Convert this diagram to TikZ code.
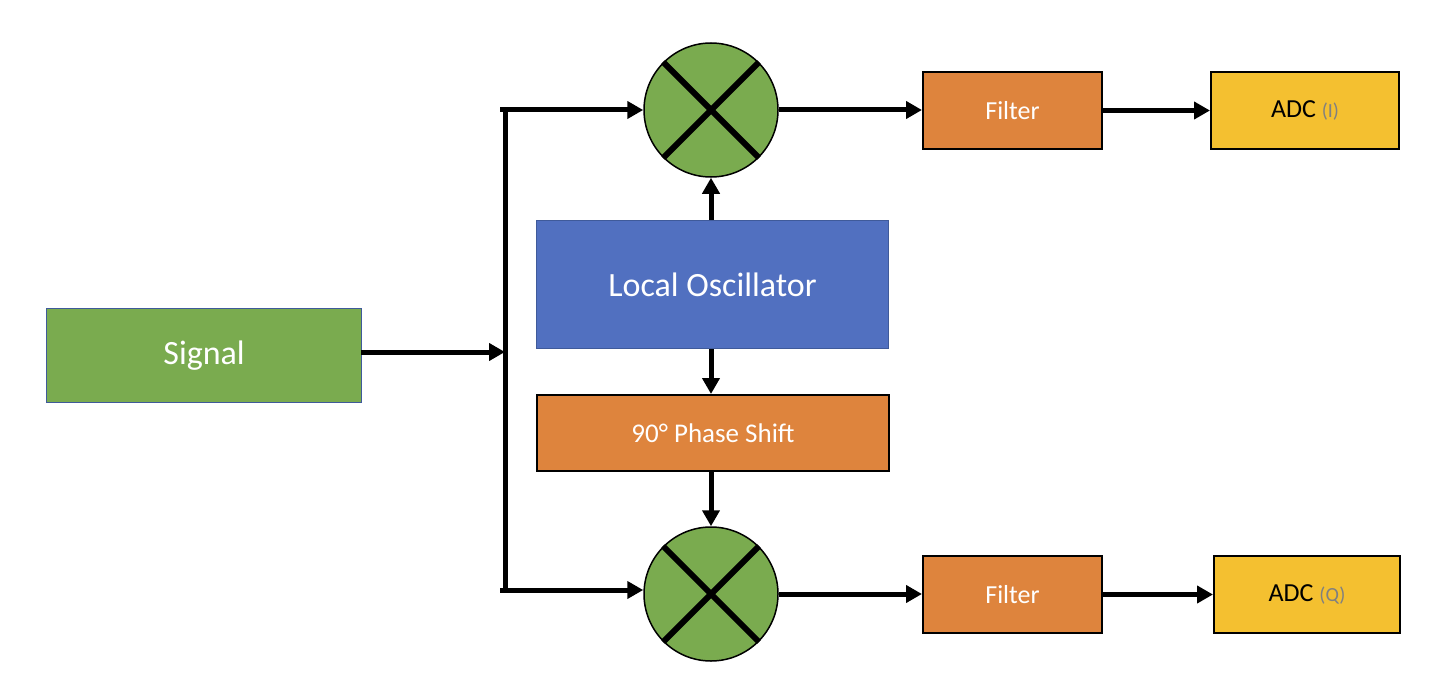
\documentclass[tikz,border=0pt]{standalone}
\usepackage{fontspec}
\setmainfont{Carlito}
\usetikzlibrary{arrows.meta}
\definecolor{grn}{HTML}{7AAB4F}
\definecolor{blu}{HTML}{5170C0}
\definecolor{bluedge}{HTML}{3F5A9A}
\definecolor{org}{HTML}{DE843D}
\definecolor{ylw}{HTML}{F4C030}
\definecolor{gry}{HTML}{808080}
\tikzset{
  box/.style={rectangle, inner sep=0pt, anchor=north west},
  wire/.style={line width=5pt, -{Triangle[length=16pt,width=17pt]}},
  plain/.style={line width=5pt},
  mixer/.style={circle, draw=black, line width=1.5pt, fill=grn, minimum size=134pt, inner sep=0pt},
  crossline/.style={line width=6pt}
}
\begin{document}
\begin{tikzpicture}[x=1pt,y=-1pt]
\useasboundingbox (0,0) rectangle (1445,698);
% boxes
\node[box, fill=grn, draw=bluedge, line width=1.2pt, minimum width=315pt, minimum height=94pt, text=white, font=\fontsize{34}{38}\selectfont] (sig) at (46,308) {Signal};
\node[box, fill=blu, draw=bluedge, line width=1.2pt, minimum width=352pt, minimum height=128pt, text=white, font=\fontsize{34}{38}\selectfont] (lo) at (536,220) {Local Oscillator};
\node[box, fill=org, draw=black, line width=2pt, minimum width=352pt, minimum height=76pt, text=white, font=\fontsize{27}{30}\selectfont] (ps) at (536,394) {90° Phase Shift};
\node[box, fill=org, draw=black, line width=2pt, minimum width=179pt, minimum height=77pt, text=white, font=\fontsize{26}{30}\selectfont] (f1) at (922,71) {Filter};
\node[box, fill=org, draw=black, line width=2pt, minimum width=179pt, minimum height=77pt, text=white, font=\fontsize{26}{30}\selectfont] (f2) at (922,555) {Filter};
\node[box, fill=ylw, draw=black, line width=2pt, minimum width=188pt, minimum height=77pt, font=\fontsize{26}{30}\selectfont] (a1) at (1210,71) {ADC {\color{gry}\fontsize{20}{24}\selectfont(I)}};
\node[box, fill=ylw, draw=black, line width=2pt, minimum width=186pt, minimum height=77pt, font=\fontsize{26}{30}\selectfont] (a2) at (1213,555) {ADC {\color{gry}\fontsize{20}{24}\selectfont(Q)}};
% mixers
\node[mixer] (m1) at (711,110) {};
\node[mixer] (m2) at (711,594) {};
\foreach \m in {m1,m2}{
  \draw[crossline] (\m.45) -- (\m.225);
  \draw[crossline] (\m.135) -- (\m.315);
}
% splitter
\coordinate (jt) at (500,110);
\coordinate (jb) at (500,590);
\coordinate (vt) at (505,107.5);
\coordinate (vb) at (505,592.5);
\coordinate (sx) at (361,352);
\draw[plain] (vt) -- (vb);
\draw[wire] (sx) -- (sx -| vt);
\draw[wire] (jt) -- (m1.west |- jt);
\draw[wire] (jb) -- (m2.west |- jb);
% LO paths
\draw[wire] (lo.north -| m1) -- (m1.south);
\draw[wire] (lo.south -| m1) -- (ps.north -| m1);
\draw[wire] (ps.south -| m2) -- (m2.north);
% outputs
\draw[wire] (m1.east) -- (f1.west |- m1.east);
\draw[wire] (f1.east) -- (a1.west |- f1.east);
\draw[wire] (m2.east) -- (f2.west |- m2.east);
\draw[wire] (f2.east) -- (a2.west |- f2.east);
\end{tikzpicture}
\end{document}
